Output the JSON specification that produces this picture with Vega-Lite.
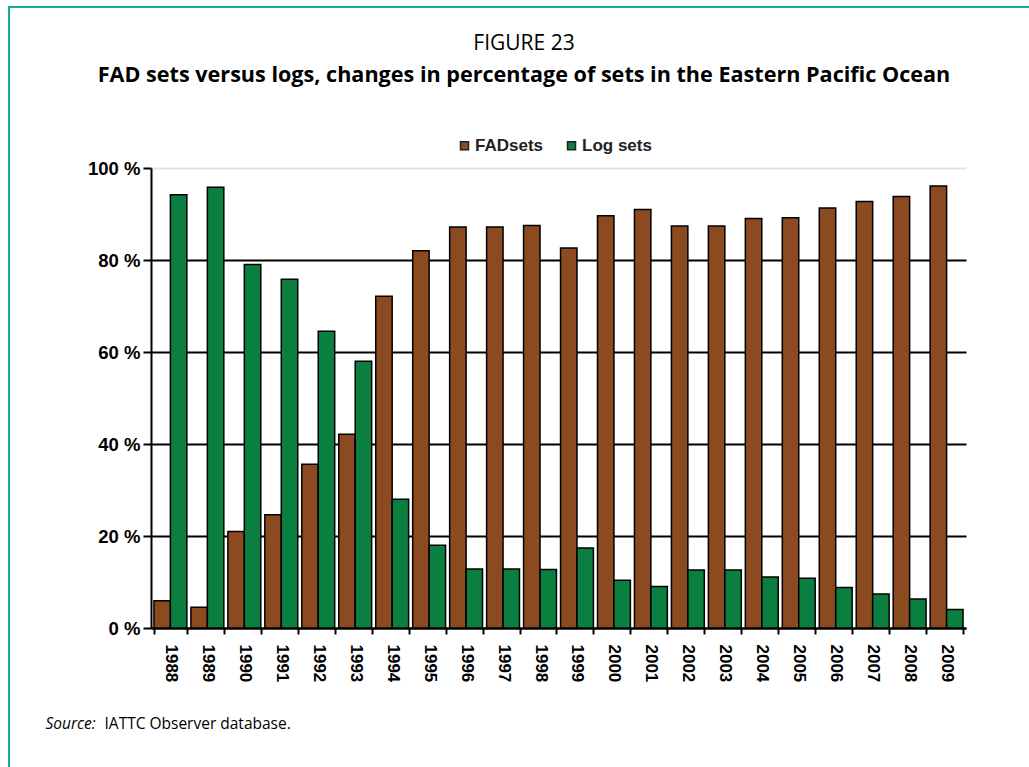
{
  "$schema": "https://vega.github.io/schema/vega-lite/v6.json",
  "width": 1032,
  "height": 770,
  "autosize": {"type": "none"},
  "padding": {"left": 9, "top": 7, "right": -12, "bottom": -10},
  "background": "white",
  "config": {"view": {"stroke": "#1aa89a", "strokeWidth": 2}},
  "title": {
    "text": "FIGURE 23",
    "subtitle": "FAD sets versus logs, changes in percentage of sets in the Eastern Pacific Ocean",
    "font": "Open Sans",
    "fontSize": 21,
    "fontWeight": "normal",
    "color": "black",
    "subtitleFont": "Open Sans",
    "subtitleFontSize": 21.6,
    "subtitleFontWeight": "bold",
    "subtitleColor": "black",
    "subtitlePadding": 11,
    "anchor": "middle",
    "frame": "group",
    "offset": -80,
    "dx": -1
  },
  "data": {
    "values": [
      {"year": "1988", "type": "FADsets", "value": 5.9},
      {"year": "1988", "type": "Log sets", "value": 94.2},
      {"year": "1989", "type": "FADsets", "value": 4.5},
      {"year": "1989", "type": "Log sets", "value": 95.8},
      {"year": "1990", "type": "FADsets", "value": 21.0},
      {"year": "1990", "type": "Log sets", "value": 79.0},
      {"year": "1991", "type": "FADsets", "value": 24.6},
      {"year": "1991", "type": "Log sets", "value": 75.8},
      {"year": "1992", "type": "FADsets", "value": 35.6},
      {"year": "1992", "type": "Log sets", "value": 64.5},
      {"year": "1993", "type": "FADsets", "value": 42.1},
      {"year": "1993", "type": "Log sets", "value": 58.0},
      {"year": "1994", "type": "FADsets", "value": 72.1},
      {"year": "1994", "type": "Log sets", "value": 28.0},
      {"year": "1995", "type": "FADsets", "value": 82.0},
      {"year": "1995", "type": "Log sets", "value": 18.0},
      {"year": "1996", "type": "FADsets", "value": 87.2},
      {"year": "1996", "type": "Log sets", "value": 12.8},
      {"year": "1997", "type": "FADsets", "value": 87.2},
      {"year": "1997", "type": "Log sets", "value": 12.8},
      {"year": "1998", "type": "FADsets", "value": 87.5},
      {"year": "1998", "type": "Log sets", "value": 12.7},
      {"year": "1999", "type": "FADsets", "value": 82.6},
      {"year": "1999", "type": "Log sets", "value": 17.4},
      {"year": "2000", "type": "FADsets", "value": 89.6},
      {"year": "2000", "type": "Log sets", "value": 10.4},
      {"year": "2001", "type": "FADsets", "value": 91.0},
      {"year": "2001", "type": "Log sets", "value": 9.0},
      {"year": "2002", "type": "FADsets", "value": 87.4},
      {"year": "2002", "type": "Log sets", "value": 12.6},
      {"year": "2003", "type": "FADsets", "value": 87.4},
      {"year": "2003", "type": "Log sets", "value": 12.6},
      {"year": "2004", "type": "FADsets", "value": 89.0},
      {"year": "2004", "type": "Log sets", "value": 11.1},
      {"year": "2005", "type": "FADsets", "value": 89.2},
      {"year": "2005", "type": "Log sets", "value": 10.8},
      {"year": "2006", "type": "FADsets", "value": 91.3},
      {"year": "2006", "type": "Log sets", "value": 8.8},
      {"year": "2007", "type": "FADsets", "value": 92.7},
      {"year": "2007", "type": "Log sets", "value": 7.4},
      {"year": "2008", "type": "FADsets", "value": 93.8},
      {"year": "2008", "type": "Log sets", "value": 6.3},
      {"year": "2009", "type": "FADsets", "value": 96.1},
      {"year": "2009", "type": "Log sets", "value": 4.0}
    ]
  },
  "mark": {"type": "bar", "stroke": "black", "strokeWidth": 1.5},
  "encoding": {
    "x": {
      "field": "year",
      "type": "nominal",
      "scale": {"range": [142, 957], "paddingInner": 0.11, "paddingOuter": 0.08},
      "axis": {
        "orient": "bottom",
        "offset": -149,
        "labelAngle": 90,
        "labelAlign": "left",
        "labelBaseline": "middle",
        "labelFont": "Liberation Sans",
        "labelFontWeight": "bold",
        "labelFontSize": 17,
        "labelColor": "black",
        "labelPadding": 10,
        "tickBand": "extent",
        "tickSize": 6,
        "tickColor": "black",
        "tickWidth": 2,
        "domainColor": "black",
        "domainWidth": 2,
        "title": "IATTC Observer database.",
        "titleX": 95,
        "titleY": 100,
        "titleAlign": "left",
        "titleAnchor": "start",
        "titleBaseline": "alphabetic",
        "titleFont": "Open Sans",
        "titleFontWeight": "normal",
        "titleFontSize": 15.5,
        "titleColor": "black"
      }
    },
    "xOffset": {"field": "type", "scale": {"domain": ["FADsets", "Log sets"], "paddingInner": 0, "paddingOuter": 0}},
    "y": {
      "field": "value",
      "type": "quantitative",
      "scale": {"domain": [0, 100], "range": [621, 161]},
      "axis": {
        "orient": "left",
        "offset": -142,
        "values": [0, 20, 40, 60, 80, 100],
        "labelExpr": "datum.value + ' %'",
        "labelFont": "Liberation Sans",
        "labelFontWeight": "bold",
        "labelFontSize": 18.5,
        "labelColor": "black",
        "labelPadding": 3,
        "tickSize": 8,
        "tickColor": "black",
        "tickWidth": 2,
        "domainColor": "black",
        "domainWidth": 2,
        "grid": true,
        "gridColor": {"condition": {"test": "datum.value === 100", "value": "#e4e4e4"}, "value": "black"},
        "gridWidth": 2,
        "gridOpacity": 1,
        "title": "Source:",
        "titleAngle": 0,
        "titleX": -106,
        "titleY": 721,
        "titleAlign": "left",
        "titleBaseline": "alphabetic",
        "titleFont": "Open Sans",
        "titleFontStyle": "italic",
        "titleFontWeight": "normal",
        "titleFontSize": 15.5,
        "titleColor": "black"
      }
    },
    "color": {
      "field": "type",
      "type": "nominal",
      "scale": {"domain": ["FADsets", "Log sets"], "range": ["#8b4a20", "#0a7f3f"]},
      "legend": {
        "orient": "none",
        "legendX": 447,
        "legendY": 130,
        "direction": "horizontal",
        "title": null,
        "symbolType": "square",
        "symbolSize": 64,
        "symbolStrokeColor": "#222",
        "symbolStrokeWidth": 1.5,
        "labelFont": "Liberation Sans",
        "labelFontWeight": "bold",
        "labelFontSize": 17,
        "labelColor": "#222",
        "labelOffset": 2,
        "columnPadding": 19
      }
    }
  }
}
